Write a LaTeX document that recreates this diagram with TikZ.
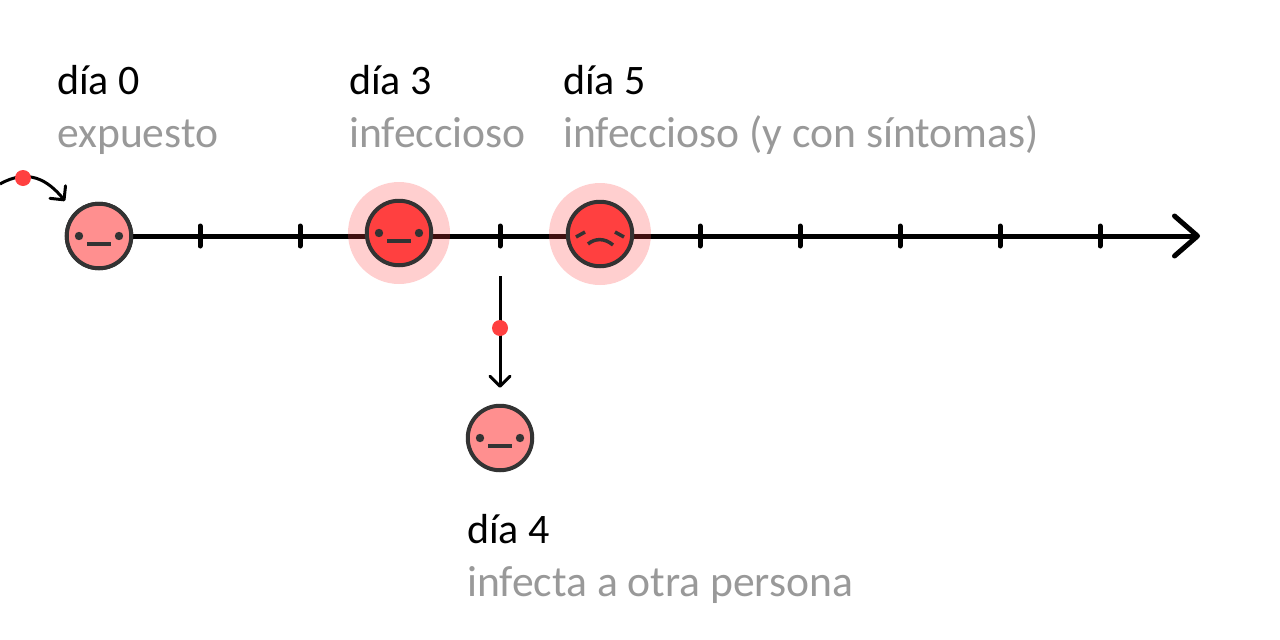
\documentclass[tikz,border=0pt]{standalone}
\usepackage{fontspec}
\setmainfont{Carlito}
\usetikzlibrary{arrows.meta}
\definecolor{facered}{HTML}{FF4040}
\definecolor{facepink}{HTML}{FF8F8F}
\tikzset{
  face/.style={circle,draw=black!80,line width=4pt,minimum size=64.5pt,inner sep=0pt},
  halo/.style={circle,fill=facered,fill opacity=.25,minimum size=102pt,inner sep=0pt},
  virus/.style={circle,fill=facered,minimum size=16pt,inner sep=0pt},
  daytext/.style={anchor=base west,inner sep=0pt,text=black,font=\fontsize{42}{50}\selectfont},
  greytext/.style={anchor=base west,inner sep=0pt,text=black!40,font=\fontsize{43.6}{50}\selectfont},
  facemark/.style={black!80,line width=3.5pt},
  smallarrow/.style={line width=3pt,-{Straight Barb[length=10pt,width=20pt,round]}},
}
\begin{document}
\begin{tikzpicture}[x=1pt,y=-1pt]
\useasboundingbox (0,0) rectangle (1280,640);
\coordinate (axisend) at (1200,236);
\node[face,fill=facepink] (f0) at (99,236) {};
\draw[line width=5pt,line cap=round,-{Straight Barb[length=23pt,width=40pt,round]}] (f0)--(axisend);
\foreach \x in {200,300,500,700,800,900,1000,1100}{\draw[line width=5pt,line cap=round] (\x,226)--(\x,246);}
\node[face,fill=facepink] at (f0) {};
\node[halo] (h1) at (399,233) {};
\node[halo] (h2) at (600,234) {};
\node[face,fill=facered] (f1) at (h1) {};
\node[face,fill=facered] (f2) at (h2) {};
\node[face,fill=facepink] (f3) at (500,438) {};
\foreach \f in {f0,f1,f3}{
  \fill[facemark,shift={(\f)}] (-20,0) circle[radius=4.2];
  \fill[facemark,shift={(\f)}] (20,0) circle[radius=4.2];
  \draw[facemark,shift={(\f)}] (-12,8)--(12,8);
}
\draw[facemark,shift={(f2)}] (-24,3)--(-15,-2);
\draw[facemark,shift={(f2)}] (15,-2)--(24,3);
\draw[facemark,shift={(f2)}] (-12,10) .. controls (-5,4) and (5,4) .. (13,11);
% arrows with the red dots
\coordinate (in0) at (0,184);
\coordinate (in1) at (65,201);
\coordinate (day4) at (500,236);
\draw[smallarrow] (in0) .. controls (28,168) and (48,180) .. (in1);
\draw[smallarrow,shorten <=40pt,shorten >=16pt] (day4)--(f3);
\node[virus] (v0) at (23,178) {};
\node[virus] (v1) at (500,328) {};
% labels
\node[daytext] (d0) at (57,94) {día 0};
\node[greytext] (t0) at (57,147) {expuesto};
\node[daytext] (d3) at (349,94) {día 3};
\node[greytext] (t3) at (349,147) {infeccioso};
\node[daytext] (d5) at (563,94) {día 5};
\node[greytext] (t5) at (563,147) {infeccioso (y con síntomas)};
\node[daytext] (d4) at (467,543) {día 4};
\node[greytext] (t4) at (467,596) {infecta a otra persona};
\end{tikzpicture}
\end{document}
